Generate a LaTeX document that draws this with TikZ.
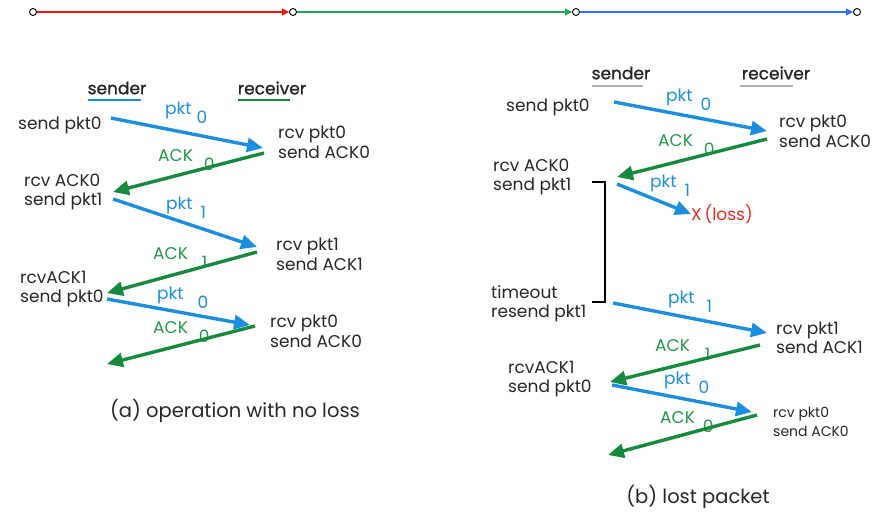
\documentclass[tikz,border=0pt]{standalone}
\usepackage{fontspec}
\setmainfont{Poppins}
\newfontfamily\hdrfont[FakeBold=1.2]{Poppins}
\usepackage{xcolor}
\usetikzlibrary{arrows.meta}
\definecolor{pktblue}{RGB}{27,142,224}
\definecolor{ackgreen}{RGB}{24,138,62}
\definecolor{acktext}{RGB}{34,152,72}
\definecolor{lossred}{RGB}{232,42,30}
\definecolor{topred}{RGB}{240,20,20}
\definecolor{topgreen}{RGB}{40,160,90}
\definecolor{topblue}{RGB}{50,110,255}
\newcommand{\lowidx}[2][6pt]{\hspace{#1}\raisebox{-9pt}{#2}}

\begin{document}
\begin{tikzpicture}[x=1pt,y=-1pt,
	every node/.style={inner sep=0pt,font=\fontsize{17}{19.5}\selectfont,text=black!85},
	txt/.style={anchor=west,align=left},
	hdr/.style={font=\hdrfont\fontsize{17}{19.5}\selectfont},
	caption/.style={font=\fontsize{19.5}{22}\selectfont},
	pktlbl/.style={anchor=west,text=pktblue},
	acklbl/.style={anchor=west,text=acktext},
	pktarrow/.style={draw=pktblue,line width=3.4pt,-{Triangle[length=16pt,width=14pt]}},
	ackarrow/.style={draw=ackgreen,line width=3.4pt,-{Triangle[length=16pt,width=14pt]}},
	tick/.style={circle,draw=black,fill=white,line width=0.9pt,minimum size=7pt},
	toparrow/.style={line width=1.1pt,-{Triangle[length=7pt,width=7pt]}}]
			\useasboundingbox (0,0) rectangle (886,516);
			
			\node[tick] (t0) at (33,12) {};
			\node[tick] (t1) at (293,12) {};
			\node[tick] (t2) at (576,12) {};
			\node[tick] (t3) at (857,12) {};
			\draw[toparrow,topred] (t0) -- (t1);
			\draw[toparrow,topgreen] (t1) -- (t2);
			\draw[toparrow,topblue] (t2) -- (t3);
			
			\coordinate (ap0s) at (111,118);
			\coordinate (ap0e) at (263,148);
			\coordinate (ak0s) at (264,153);
			\coordinate (ak0e) at (113,192);
			\coordinate (ap1s) at (113,199);
			\coordinate (ap1e) at (257,247);
			\coordinate (ak1s) at (257,252);
			\coordinate (ak1e) at (107,293);
			\coordinate (ap2s) at (107,299);
			\coordinate (ap2e) at (250,325);
			\coordinate (ak2s) at (255,326);
			\coordinate (ak2e) at (107,364);
			
			\coordinate (bp0s) at (614,102);
			\coordinate (bp0e) at (767,131);
			\coordinate (bk0s) at (767,139);
			\coordinate (bk0e) at (617,177);
			\coordinate (bp1s) at (617,184);
			\coordinate (bp2s) at (613,303);
			\coordinate (bp2e) at (767,333);
			\coordinate (bk1s) at (760,345);
			\coordinate (bk1e) at (610,382);
			\coordinate (bp3s) at (612,385);
			\coordinate (bp3e) at (752,412);
			\coordinate (bk2s) at (757,415);
			\coordinate (bk2e) at (608,455);
			\coordinate (br1) at (592,182);
			\coordinate (br2) at (605,182);
			\coordinate (br3) at (605,302);
			\coordinate (br4) at (592,302);
			
			\node[hdr] (sndA) at (117,88) {sender};
			\node[hdr] (rcvA) at (272,88) {receiver};
			\draw[pktblue,line width=2.6pt] (88,100) -- (141,100);
			\draw[ackgreen,line width=2.6pt] (238,100) -- (290,100);
			\node[txt] (a1) at (18,125) {send pkt0};
			\node[txt] (a2) at (278,142.5) {rcv pkt0\\send ACK0};
			\node[txt] (a3) at (24,192) {rcv ACK0\\send pkt1};
			\node[txt] (a4) at (276,254.5) {rcv pkt1\\send ACK1};
			\node[txt] (a5) at (20,289) {rcvACK1\\send pkt0};
			\node[txt] (a6) at (270,331.5) {rcv pkt0\\send ACK0};
			\node[caption] (capA) at (235,411) {(a) operation with no loss};
			
			\node[pktlbl] (la1) at (165,113) {pkt\lowidx[5pt]{0}};
			\node[acklbl] (la2) at (158,160) {ACK\lowidx[11pt]{0}};
			\node[pktlbl] (la3) at (166,208) {pkt\lowidx[8pt]{1}};
			\node[acklbl] (la4) at (153,258) {ACK\lowidx[14pt]{1}};
			\node[pktlbl] (la5) at (157,298) {pkt\lowidx[14pt]{0}};
			\node[acklbl] (la6) at (153,332) {ACK\lowidx[11pt]{0}};
			
			\draw[pktarrow] (ap0s) -- (ap0e);
			\draw[ackarrow] (ak0s) -- (ak0e);
			\draw[pktarrow] (ap1s) -- (ap1e);
			\draw[ackarrow] (ak1s) -- (ak1e);
			\draw[pktarrow] (ap2s) -- (ap2e);
			\draw[ackarrow] (ak2s) -- (ak2e);
			
			\node[hdr] (sndB) at (621,73) {sender};
			\node[hdr] (rcvB) at (776,73) {receiver};
			\draw[black!30,line width=1.4pt] (592,86) -- (643,86);
			\draw[black!30,line width=1.4pt] (740,86) -- (793,86);
			\node[txt] (b1) at (506,107) {send pkt0};
			\node[txt] (b2) at (779,131.5) {rcv pkt0\\send ACK0};
			\node[txt] (b3) at (493,177) {rcv ACK0\\send pkt1};
			\node[txt] (b4) at (491,303.5) {timeout\\resend pkt1};
			\node[txt] (b5) at (776,338) {rcv pkt1\\send ACK1};
			\node[txt] (b6) at (508,379) {rcvACK1\\send pkt0};
			\node[txt,font=\fontsize{14}{19}\selectfont] (b7) at (773,421.5) {rcv pkt0\\send ACK0};
			\node[anchor=west,text=lossred] (loss) at (691,214) {X\,(loss)};
			\node[caption] (capB) at (698,497) {(b) lost packet};
			
			\node[pktlbl] (lb1) at (666,100) {pkt\lowidx[8pt]{0}};
			\node[acklbl] (lb2) at (658,145) {ACK\lowidx[11pt]{0}};
			\node[pktlbl] (lb3) at (650,186) {pkt\lowidx[8pt]{1}};
			\node[pktlbl] (lb4) at (668,302) {pkt\lowidx[12pt]{1}};
			\node[acklbl] (lb5) at (655,350) {ACK\lowidx[15pt]{1}};
			\node[pktlbl] (lb6) at (664,383) {pkt\lowidx[8pt]{0}};
			\node[acklbl] (lb7) at (660,422) {ACK\lowidx[8pt]{0}};
			
			\draw[pktarrow] (bp0s) -- (bp0e);
			\draw[ackarrow] (bk0s) -- (bk0e);
			\draw[pktarrow] (bp1s) -- (loss.west);
			\draw[line width=2pt] (br1) -- (br2) -- (br3) -- (br4);
			\draw[pktarrow] (bp2s) -- (bp2e);
			\draw[ackarrow] (bk1s) -- (bk1e);
			\draw[pktarrow] (bp3s) -- (bp3e);
			\draw[ackarrow] (bk2s) -- (bk2e);
		\end{tikzpicture}
\end{document}
